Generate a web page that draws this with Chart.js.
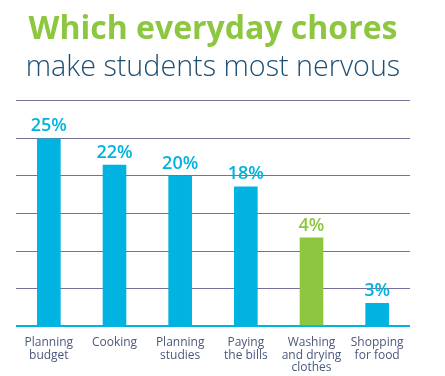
<!DOCTYPE html>
<html>
<head>
<meta charset="utf-8">
<script src="https://cdn.jsdelivr.net/npm/chart.js@4.4.1/dist/chart.umd.min.js"></script>
<style>
  html, body { margin: 0; padding: 0; background: #fff; }
  #wrap { width: 445px; height: 376px; }
</style>
</head>
<body>
<div id="wrap"><canvas id="choresChart" width="445" height="376"></canvas></div>
<script>
// Categories and values
const categories = [
  ['Planning', 'budget'],
  ['Cooking'],
  ['Planning', 'studies'],
  ['Paying', 'the bills'],
  ['Washing', 'and drying', 'clothes'],
  ['Shopping', 'for food']
];
// bar heights as drawn (grid step = 5)
const barHeights = [25, 21.5, 20, 18.6, 11.8, 3.1];
// printed labels
const percentLabels = ['25%', '22%', '20%', '18%', '4%', '3%'];
const barColors = ['#00b3e1', '#00b3e1', '#00b3e1', '#00b3e1', '#8dc63f', '#00b3e1'];
const labelColors = ['#00b3e1', '#00b3e1', '#00b3e1', '#00b3e1', '#8dc63f', '#00b3e1'];

// draws the % text above each bar
const valueLabels = {
  id: 'valueLabels',
  afterDatasetsDraw(chart) {
    const ctx = chart.ctx;
    const meta = chart.getDatasetMeta(0);
    ctx.save();
    ctx.font = '600 18px "Open Sans"';
    ctx.textAlign = 'center';
    ctx.textBaseline = 'alphabetic';
    meta.data.forEach((bar, i) => {
      ctx.fillStyle = labelColors[i];
      ctx.fillText(percentLabels[i], bar.x, bar.y - 7);
    });
    ctx.restore();
  }
};

const ctx = document.getElementById('choresChart').getContext('2d');
new Chart(ctx, {
  type: 'bar',
  data: {
    labels: categories,
    datasets: [{
      data: barHeights,
      backgroundColor: barColors,
      barPercentage: 0.36,
      categoryPercentage: 1
    }]
  },
  options: {
    responsive: false,
    animation: false,
    layout: { padding: { left: 16, right: 35, top: 0, bottom: -8 } },
    scales: {
      x: {
        grid: { display: false, drawTicks: false },
        border: { display: false },
        ticks: {
          color: '#4b587c',
          font: { family: 'Open Sans', size: 12, lineHeight: 1.05 },
          padding: 10,
          maxRotation: 0,
          autoSkip: false
        }
      },
      y: {
        min: 0,
        max: 30,
        ticks: { display: false, stepSize: 5 },
        border: { display: false },
        grid: {
          drawTicks: false,
          color: (c) => c.tick.value === 0 ? '#00b3e1' : '#786e98',
          lineWidth: (c) => c.tick.value === 0 ? 2 : 1
        }
      }
    },
    plugins: {
      legend: { display: false },
      tooltip: { enabled: false },
      title: {
        display: true,
        fullSize: false,
        text: 'Which everyday chores',
        color: '#8dc63f',
        font: { family: 'Open Sans', size: 32, weight: 'bold', lineHeight: 1.2 },
        padding: { top: 11, bottom: 0 }
      },
      subtitle: {
        display: true,
        fullSize: false,
        text: 'make students most nervous',
        color: '#1d4f73',
        font: { family: 'Open Sans', size: 28.7, weight: '300', lineHeight: 1.2 },
        padding: { top: 1, bottom: 16 }
      }
    }
  },
  plugins: [valueLabels]
});
</script>
</body>
</html>
